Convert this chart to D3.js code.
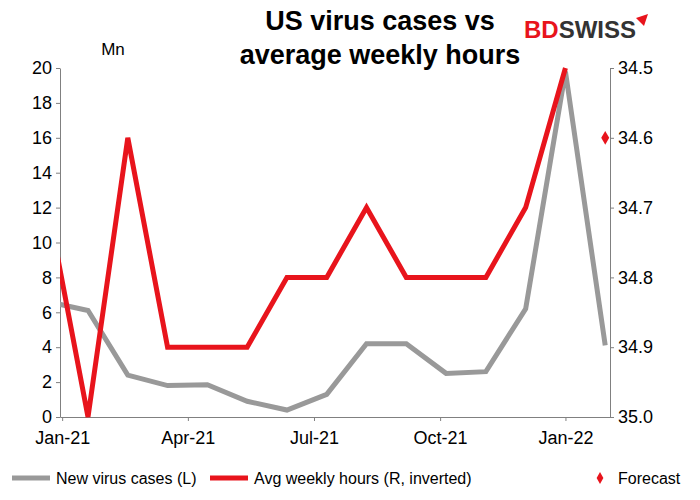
<!DOCTYPE html><html><head><meta charset="utf-8">
<script src="https://cdn.jsdelivr.net/npm/d3@7"></script>
<style>body{margin:0;background:#fff}text{font-family:Arial,"Liberation Sans",sans-serif}</style></head><body>
<svg id="c" width="700" height="500"></svg>
<script>
const cases = [6.6,6.1,2.4,1.8,1.85,0.9,0.4,1.3,4.2,4.2,2.5,2.6,6.2,19.8,4.1];
const hours = [34.7,35.0,34.6,34.9,34.9,34.9,34.8,34.8,34.7,34.8,34.8,34.8,34.7,34.5];
const forecast = [{k:14,v:34.6}];
const xTickLabels = ["Jan-21","Apr-21","Jul-21","Oct-21","Jan-22"];
const xTickPos = [0.35,3.51,6.68,9.85,13.0];
const leftTicks = d3.range(0,21,2);
const rightTicks = [34.5,34.6,34.7,34.8,34.9,35.0];

const svg=d3.select("#c");
const L=60,R=610,T=68,B=417;
const x=d3.scaleLinear().domain([0.296,14.12]).range([L,R]);
const xk=k=>x(k);
const yL=d3.scaleLinear().domain([0,20]).range([B,T]);
const yR=d3.scaleLinear().domain([34.5,35.0]).range([T,B]);

svg.append("clipPath").attr("id","cp").append("rect").attr("x",L).attr("y",T-5).attr("width",R-L).attr("height",B-T+10);

const ax="#808080";
const gL=svg.append("g").attr("transform",`translate(${L},0)`).call(d3.axisLeft(yL).tickValues(leftTicks).tickSize(4).tickSizeOuter(0));
const gR=svg.append("g").attr("transform",`translate(${R},0)`).call(d3.axisRight(yR).tickValues(rightTicks).tickFormat(d3.format(".1f")).tickSize(4).tickSizeOuter(0));
const gB=svg.append("g").attr("transform",`translate(0,${B})`).call(d3.axisBottom(x).tickValues(xTickPos).tickFormat((d,i)=>xTickLabels[i]).tickSize(4).tickSizeOuter(0));
[gL,gR,gB].forEach(g=>{g.selectAll("path,line").attr("stroke",ax);g.selectAll("text").attr("font-size",18).attr("fill","#000");});
gL.selectAll("text").attr("x",-8);gR.selectAll("text").attr("x",8);gB.selectAll("text").attr("dy","1.1em");

const pc=svg.append("g").attr("clip-path","url(#cp)");
pc.append("path").datum(cases).attr("fill","none").attr("stroke","#999999").attr("stroke-width",5)
 .attr("d",d3.line().x((d,i)=>xk(i)).y(d=>yL(d)));
pc.append("path").datum(hours).attr("fill","none").attr("stroke","#e8141c").attr("stroke-width",5)
 .attr("d",d3.line().x((d,i)=>xk(i)).y(d=>yR(d)));
svg.selectAll(".fc").data(forecast).join("path").attr("transform",d=>`translate(${xk(d.k)},${yR(d.v)})`)
 .attr("d",d3.symbol(d3.symbolDiamond,55)).attr("fill","#e8141c");

svg.append("text").attr("x",113).attr("y",55).attr("font-size",17).attr("text-anchor","middle").text("Mn");
const tt=svg.append("text").attr("x",380).attr("font-size",27).attr("font-weight","bold").attr("text-anchor","middle");
tt.append("tspan").attr("x",380).attr("y",30).text("US virus cases vs");
tt.append("tspan").attr("x",380).attr("y",64).text("average weekly hours");

const lg=svg.append("text").attr("x",580).attr("y",38).attr("font-size",24).attr("font-weight","bold").attr("text-anchor","middle");
lg.append("tspan").attr("fill","#e8141c").text("BD");
lg.append("tspan").attr("fill","#333").text("SWISS");
svg.append("path").attr("d","M636,18 L648,14 L644,26 Z").attr("fill","#e8141c");

const ly=478;
svg.append("line").attr("x1",12).attr("x2",50).attr("y1",ly).attr("y2",ly).attr("stroke","#999").attr("stroke-width",5);
svg.append("text").attr("x",56).attr("y",ly+6).attr("font-size",16).text("New virus cases (L)");
svg.append("line").attr("x1",210).attr("x2",248).attr("y1",ly).attr("y2",ly).attr("stroke","#e8141c").attr("stroke-width",5);
svg.append("text").attr("x",254).attr("y",ly+6).attr("font-size",16).text("Avg weekly hours (R, inverted)");
svg.append("path").attr("transform",`translate(${600},${ly})`).attr("d",d3.symbol(d3.symbolDiamond,40)).attr("fill","#e8141c");
svg.append("text").attr("x",618).attr("y",ly+6).attr("font-size",16).text("Forecast");
</script></body></html>
